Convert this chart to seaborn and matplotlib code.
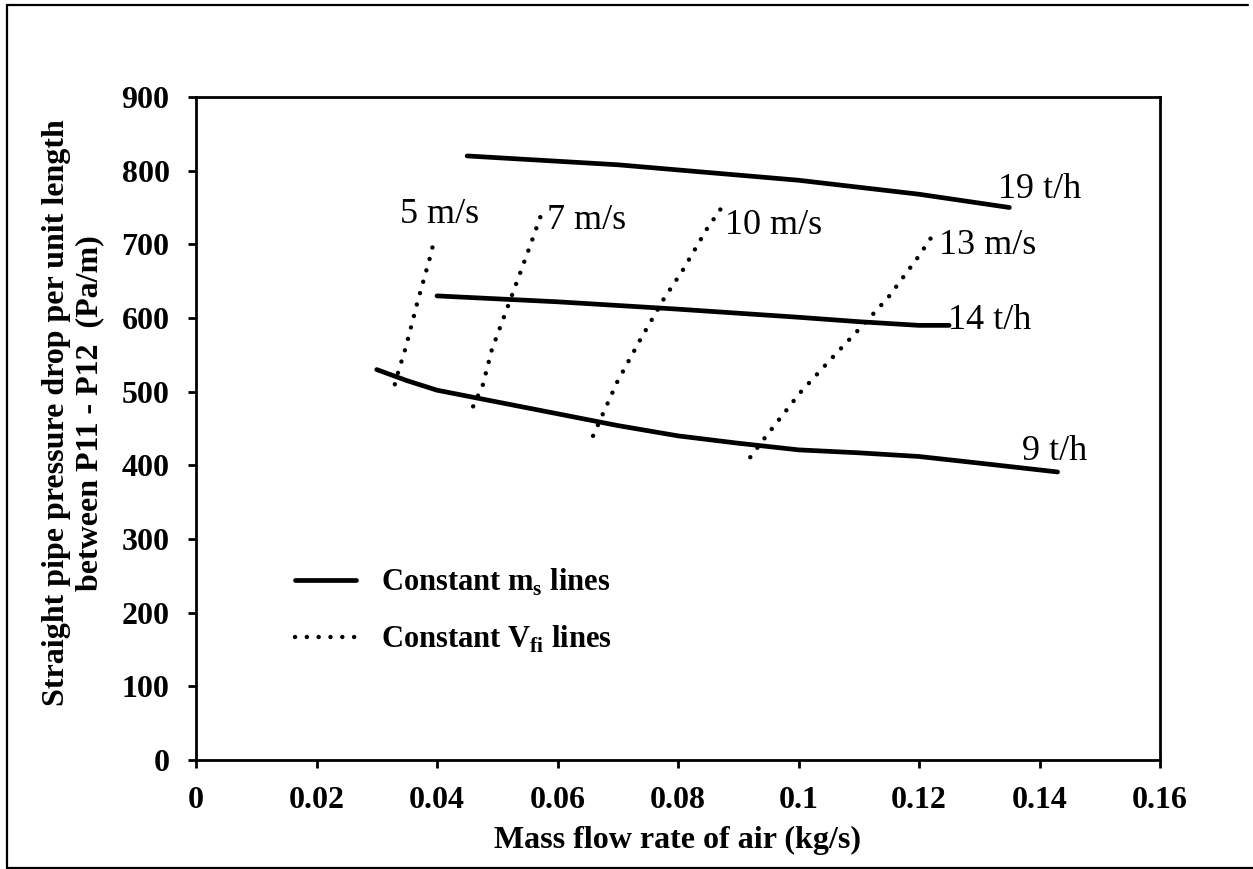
import matplotlib
matplotlib.use("Agg")
import matplotlib.pyplot as plt
from matplotlib.lines import Line2D
import seaborn as sns
import pandas as pd

# Constant solids mass flow lines (t/h)
ms19_x = [0.045, 0.07, 0.1, 0.12, 0.135]
ms19_y = [820, 808, 787, 768, 750]
ms14_x = [0.04, 0.06, 0.08, 0.1, 0.11, 0.12, 0.125]
ms14_y = [630, 622, 612, 601, 595, 590, 590]
ms9_x = [0.03, 0.035, 0.04, 0.05, 0.06, 0.07, 0.08, 0.09, 0.1, 0.11, 0.12, 0.13, 0.143]
ms9_y = [530, 515, 502, 486, 470, 454, 440, 430, 421, 417, 412, 403, 391]

# Constant air velocity lines (m/s)
v5_x = [0.033, 0.0335, 0.0347, 0.0357, 0.0367, 0.0377, 0.0388, 0.0397]
v5_y = [510, 525, 557, 588, 620, 649, 681, 711]
v7_x = [0.046, 0.0476, 0.0491, 0.0505, 0.0524, 0.0538, 0.0558, 0.0571, 0.0579]
v7_y = [480, 509, 557, 588, 630, 661, 706, 736, 751]
v10_x = [0.0659, 0.0699, 0.0737, 0.0775, 0.0808, 0.0848, 0.0881]
v10_y = [440, 513, 570, 624, 665, 721, 760]
v13_x = [0.092, 0.0941, 0.1002, 0.1057, 0.111, 0.1149, 0.1197, 0.123]
v13_y = [411, 434, 498, 547, 593, 628, 681, 721]

# Curve labels and where they sit
label_text = ["19 t/h", "14 t/h", "9 t/h", "5 m/s", "7 m/s", "10 m/s", "13 m/s"]
label_x = [0.1331, 0.1248, 0.1371, 0.0339, 0.0583, 0.0878, 0.1233]
label_y = [775, 597, 419, 740, 733, 726, 698]

x_ticks = [0, 0.02, 0.04, 0.06, 0.08, 0.1, 0.12, 0.14, 0.16]
x_tick_labels = ["0", "0.02", "0.04", "0.06", "0.08", "0.1", "0.12", "0.14", "0.16"]
y_ticks = [0, 100, 200, 300, 400, 500, 600, 700, 800, 900]

sns.set_theme(style="ticks")
plt.rcParams["font.family"] = ["Liberation Serif", "DejaVu Serif"]
plt.rcParams["mathtext.fontset"] = "custom"
plt.rcParams["mathtext.rm"] = "Liberation Serif"
plt.rcParams["mathtext.bf"] = "Liberation Serif:bold"
for key in ["text.color", "axes.labelcolor", "xtick.color", "ytick.color",
            "axes.edgecolor"]:
    plt.rcParams[key] = "black"

fig = plt.figure(figsize=(12.53, 8.69), dpi=100)
ax = fig.add_axes([196 / 1253, 1 - 760 / 869, 964 / 1253, 663 / 869])

solid_kw = dict(color="black", linewidth=3.4, solid_capstyle="round",
                solid_joinstyle="round")
dot_style = (0, (0.01, 2.65))
dot_kw = dict(color="black", linewidth=3.2, linestyle=dot_style,
              dash_capstyle="round")

for xs, ys in [(ms19_x, ms19_y), (ms14_x, ms14_y), (ms9_x, ms9_y)]:
    df = pd.DataFrame({"x": xs, "y": ys})
    sns.lineplot(data=df, x="x", y="y", sort=False, estimator=None, ax=ax, **solid_kw)

for xs, ys in [(v5_x, v5_y), (v7_x, v7_y), (v10_x, v10_y), (v13_x, v13_y)]:
    df = pd.DataFrame({"x": xs, "y": ys})
    sns.lineplot(data=df, x="x", y="y", sort=False, estimator=None, ax=ax, **dot_kw)

for t, lx, ly in zip(label_text, label_x, label_y):
    ax.text(lx, ly, t, fontsize=26, ha="left", va="center", color="black")

ax.set_xlim(0, 0.16)
ax.set_ylim(0, 900)
ax.set_xticks(x_ticks)
ax.set_xticklabels(x_tick_labels)
ax.set_yticks(y_ticks)
for lab in ax.get_xticklabels() + ax.get_yticklabels():
    lab.set_fontweight("bold")
    lab.set_fontsize(23)

ax.tick_params(axis="both", direction="out", length=6, width=2, color="black")
ax.tick_params(axis="y", pad=13)
ax.tick_params(axis="x", pad=13)
for side in ["left", "right", "top", "bottom"]:
    ax.spines[side].set_visible(True)
    ax.spines[side].set_linewidth(2)
    ax.spines[side].set_color("black")

ax.set_xlabel("Mass flow rate of air (kg/s)", fontsize=23, fontweight="bold")
ax.xaxis.set_label_coords(0.5, (760 - 826) / 663)
ax.set_ylabel("Straight pipe pressure drop per unit length\nbetween P11 - P12  (Pa/m)",
              fontsize=23, fontweight="bold", linespacing=1.18)
ax.yaxis.set_label_coords((104 - 196) / 964, (760 - 413) / 663)

handles = [
    Line2D([0], [0], color="black", linewidth=3.4),
    Line2D([0], [0], color="black", linewidth=3.2, linestyle=dot_style,
           dash_capstyle="round"),
]
labels = [r"Constant m$_\mathbf{s}$ lines", r"Constant V$_\mathbf{fi}$ lines"]
ax.legend(handles, labels, loc="upper left", bbox_to_anchor=(0.1027, 0.292),
          frameon=False, borderpad=0, borderaxespad=0, handlelength=2.0,
          handletextpad=0.8, labelspacing=0.85,
          prop={"family": "Liberation Serif", "weight": "bold", "size": 22})

# Frame drawn around the figure (left, top and bottom edges)
fig.add_artist(Line2D([7 / 1253, 7 / 1253], [1 - 868 / 869, 1 - 5 / 869],
                      transform=fig.transFigure, color="black", linewidth=1.6))
fig.add_artist(Line2D([7 / 1253, 1248 / 1253], [1 - 5 / 869, 1 - 5 / 869],
                      transform=fig.transFigure, color="black", linewidth=1.6))
fig.add_artist(Line2D([7 / 1253, 1.0], [1 - 868 / 869, 1 - 868 / 869],
                      transform=fig.transFigure, color="black", linewidth=1.6))

fig.savefig("out.png", dpi=100, facecolor="white")
